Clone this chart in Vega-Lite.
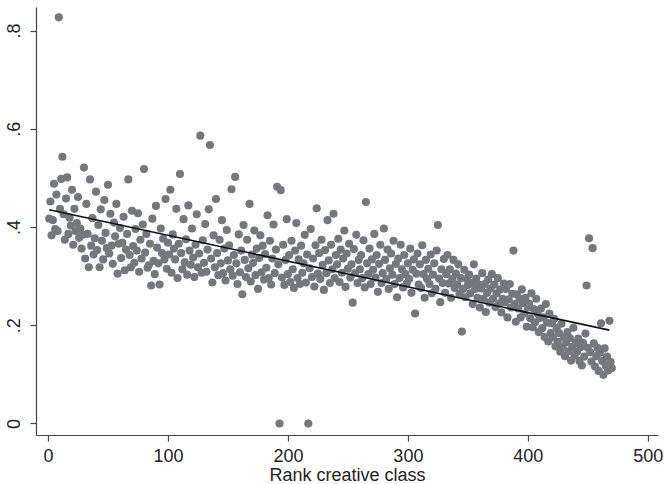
{
  "$schema": "https://vega.github.io/schema/vega-lite/v6.json",
  "width": 622,
  "height": 428,
  "autosize": {"type": "none"},
  "padding": {"left": 36, "top": 7, "right": 6, "bottom": 49},
  "background": "white",
  "config": {
    "view": {"stroke": null},
    "font": "Liberation Sans",
    "axis": {"grid": false, "domainColor": "#444", "tickColor": "#444", "labelColor": "#222", "titleColor": "#222", "labelFont": "Liberation Sans", "titleFont": "Liberation Sans", "labelFontSize": 18, "titleFontSize": 18, "titleFontWeight": "normal", "tickSize": 6, "domainWidth": 1.2, "tickWidth": 1.2}
  },
  "datasets": {
    "pts": [
      {"x":1,"y":0.417},{"x":2,"y":0.452},{"x":3,"y":0.383},{"x":4,"y":0.414},{"x":5,"y":0.488},{"x":6,"y":0.396},{"x":7,"y":0.466},{"x":8,"y":0.392},{"x":9,"y":0.827},{"x":10,"y":0.437},
      {"x":11,"y":0.498},{"x":12,"y":0.543},{"x":13,"y":0.426},{"x":14,"y":0.374},{"x":15,"y":0.458},{"x":16,"y":0.501},{"x":17,"y":0.386},{"x":18,"y":0.419},{"x":19,"y":0.403},{"x":20,"y":0.476},
      {"x":21,"y":0.364},{"x":22,"y":0.437},{"x":23,"y":0.392},{"x":24,"y":0.408},{"x":25,"y":0.461},{"x":26,"y":0.378},{"x":27,"y":0.397},{"x":28,"y":0.356},{"x":29,"y":0.384},{"x":30,"y":0.521},
      {"x":31,"y":0.336},{"x":32,"y":0.447},{"x":33,"y":0.386},{"x":34,"y":0.318},{"x":35,"y":0.497},{"x":36,"y":0.362},{"x":37,"y":0.418},{"x":38,"y":0.344},{"x":39,"y":0.377},{"x":40,"y":0.472},
      {"x":41,"y":0.353},{"x":42,"y":0.404},{"x":43,"y":0.318},{"x":44,"y":0.436},{"x":45,"y":0.372},{"x":46,"y":0.334},{"x":47,"y":0.455},{"x":48,"y":0.388},{"x":49,"y":0.357},{"x":50,"y":0.486},
      {"x":51,"y":0.346},{"x":52,"y":0.427},{"x":53,"y":0.362},{"x":54,"y":0.325},{"x":55,"y":0.409},{"x":56,"y":0.381},{"x":57,"y":0.447},{"x":58,"y":0.305},{"x":59,"y":0.366},{"x":60,"y":0.398},
      {"x":61,"y":0.337},{"x":62,"y":0.368},{"x":63,"y":0.421},{"x":64,"y":0.312},{"x":65,"y":0.354},{"x":66,"y":0.386},{"x":67,"y":0.497},{"x":68,"y":0.343},{"x":69,"y":0.318},{"x":70,"y":0.433},
      {"x":71,"y":0.361},{"x":72,"y":0.327},{"x":73,"y":0.396},{"x":74,"y":0.352},{"x":75,"y":0.428},{"x":76,"y":0.309},{"x":77,"y":0.374},{"x":78,"y":0.336},{"x":79,"y":0.405},{"x":80,"y":0.518},
      {"x":81,"y":0.348},{"x":82,"y":0.386},{"x":83,"y":0.317},{"x":84,"y":0.322},{"x":85,"y":0.366},{"x":86,"y":0.281},{"x":87,"y":0.417},{"x":88,"y":0.331},{"x":89,"y":0.304},{"x":90,"y":0.443},
      {"x":91,"y":0.358},{"x":92,"y":0.326},{"x":93,"y":0.283},{"x":94,"y":0.397},{"x":95,"y":0.347},{"x":96,"y":0.376},{"x":97,"y":0.334},{"x":98,"y":0.457},{"x":99,"y":0.315},{"x":100,"y":0.368},
      {"x":101,"y":0.344},{"x":102,"y":0.476},{"x":103,"y":0.307},{"x":104,"y":0.385},{"x":105,"y":0.356},{"x":106,"y":0.334},{"x":107,"y":0.437},{"x":108,"y":0.296},{"x":109,"y":0.366},{"x":110,"y":0.508},
      {"x":111,"y":0.347},{"x":112,"y":0.314},{"x":113,"y":0.416},{"x":114,"y":0.328},{"x":115,"y":0.375},{"x":116,"y":0.303},{"x":117,"y":0.444},{"x":118,"y":0.352},{"x":119,"y":0.323},{"x":120,"y":0.397},
      {"x":121,"y":0.338},{"x":122,"y":0.298},{"x":123,"y":0.364},{"x":124,"y":0.426},{"x":125,"y":0.318},{"x":126,"y":0.346},{"x":127,"y":0.586},{"x":128,"y":0.307},{"x":129,"y":0.373},{"x":130,"y":0.327},
      {"x":131,"y":0.406},{"x":132,"y":0.309},{"x":133,"y":0.354},{"x":134,"y":0.436},{"x":135,"y":0.567},{"x":136,"y":0.336},{"x":137,"y":0.287},{"x":138,"y":0.383},{"x":139,"y":0.318},{"x":140,"y":0.457},
      {"x":141,"y":0.347},{"x":142,"y":0.302},{"x":143,"y":0.374},{"x":144,"y":0.326},{"x":145,"y":0.414},{"x":146,"y":0.306},{"x":147,"y":0.356},{"x":148,"y":0.291},{"x":149,"y":0.394},{"x":150,"y":0.332},
      {"x":151,"y":0.363},{"x":152,"y":0.314},{"x":153,"y":0.477},{"x":154,"y":0.301},{"x":155,"y":0.343},{"x":156,"y":0.502},{"x":157,"y":0.326},{"x":158,"y":0.284},{"x":159,"y":0.385},{"x":160,"y":0.308},
      {"x":161,"y":0.352},{"x":162,"y":0.263},{"x":163,"y":0.404},{"x":164,"y":0.333},{"x":165,"y":0.298},{"x":166,"y":0.374},{"x":167,"y":0.316},{"x":168,"y":0.447},{"x":169,"y":0.289},{"x":170,"y":0.344},
      {"x":171,"y":0.327},{"x":172,"y":0.393},{"x":173,"y":0.302},{"x":174,"y":0.356},{"x":175,"y":0.274},{"x":176,"y":0.337},{"x":177,"y":0.383},{"x":178,"y":0.308},{"x":179,"y":0.362},{"x":180,"y":0.293},
      {"x":181,"y":0.345},{"x":182,"y":0.317},{"x":183,"y":0.424},{"x":184,"y":0.296},{"x":185,"y":0.372},{"x":186,"y":0.283},{"x":187,"y":0.336},{"x":188,"y":0.405},{"x":189,"y":0.306},{"x":190,"y":0.354},
      {"x":191,"y":0.482},{"x":192,"y":0.324},{"x":193,"y":0},{"x":194,"y":0.475},{"x":195,"y":0.297},{"x":196,"y":0.364},{"x":197,"y":0.282},{"x":198,"y":0.333},{"x":199,"y":0.416},{"x":200,"y":0.304},
      {"x":201,"y":0.343},{"x":202,"y":0.288},{"x":203,"y":0.372},{"x":204,"y":0.314},{"x":205,"y":0.276},{"x":206,"y":0.352},{"x":207,"y":0.408},{"x":208,"y":0.296},{"x":209,"y":0.334},{"x":210,"y":0.284},
      {"x":211,"y":0.362},{"x":212,"y":0.307},{"x":213,"y":0.326},{"x":214,"y":0.384},{"x":215,"y":0.287},{"x":216,"y":0.344},{"x":217,"y":0},{"x":218,"y":0.316},{"x":219,"y":0.396},{"x":220,"y":0.298},
      {"x":221,"y":0.336},{"x":222,"y":0.279},{"x":223,"y":0.363},{"x":224,"y":0.438},{"x":225,"y":0.305},{"x":226,"y":0.347},{"x":227,"y":0.294},{"x":228,"y":0.374},{"x":229,"y":0.323},{"x":230,"y":0.272},
      {"x":231,"y":0.353},{"x":232,"y":0.306},{"x":233,"y":0.414},{"x":234,"y":0.332},{"x":235,"y":0.286},{"x":236,"y":0.364},{"x":237,"y":0.314},{"x":238,"y":0.427},{"x":239,"y":0.296},{"x":240,"y":0.343},
      {"x":241,"y":0.324},{"x":242,"y":0.376},{"x":243,"y":0.288},{"x":244,"y":0.354},{"x":245,"y":0.307},{"x":246,"y":0.336},{"x":247,"y":0.393},{"x":248,"y":0.278},{"x":249,"y":0.346},{"x":250,"y":0.315},
      {"x":251,"y":0.366},{"x":252,"y":0.297},{"x":253,"y":0.324},{"x":254,"y":0.246},{"x":255,"y":0.355},{"x":256,"y":0.306},{"x":257,"y":0.384},{"x":258,"y":0.286},{"x":259,"y":0.333},{"x":260,"y":0.314},
      {"x":261,"y":0.343},{"x":262,"y":0.296},{"x":263,"y":0.373},{"x":264,"y":0.277},{"x":265,"y":0.451},{"x":266,"y":0.326},{"x":267,"y":0.304},{"x":268,"y":0.356},{"x":269,"y":0.284},{"x":270,"y":0.334},
      {"x":271,"y":0.313},{"x":272,"y":0.386},{"x":273,"y":0.297},{"x":274,"y":0.343},{"x":275,"y":0.268},{"x":276,"y":0.325},{"x":277,"y":0.364},{"x":278,"y":0.286},{"x":279,"y":0.306},{"x":280,"y":0.397},
      {"x":281,"y":0.333},{"x":282,"y":0.294},{"x":283,"y":0.354},{"x":284,"y":0.274},{"x":285,"y":0.316},{"x":286,"y":0.346},{"x":287,"y":0.303},{"x":288,"y":0.372},{"x":289,"y":0.284},{"x":290,"y":0.325},
      {"x":291,"y":0.257},{"x":292,"y":0.336},{"x":293,"y":0.296},{"x":294,"y":0.364},{"x":295,"y":0.314},{"x":296,"y":0.277},{"x":297,"y":0.343},{"x":298,"y":0.304},{"x":299,"y":0.285},{"x":300,"y":0.326},
      {"x":301,"y":0.294},{"x":302,"y":0.356},{"x":303,"y":0.266},{"x":304,"y":0.313},{"x":305,"y":0.334},{"x":306,"y":0.224},{"x":307,"y":0.305},{"x":308,"y":0.346},{"x":309,"y":0.283},{"x":310,"y":0.324},
      {"x":311,"y":0.276},{"x":312,"y":0.363},{"x":313,"y":0.304},{"x":314,"y":0.256},{"x":315,"y":0.333},{"x":316,"y":0.294},{"x":317,"y":0.315},{"x":318,"y":0.284},{"x":319,"y":0.344},{"x":320,"y":0.265},
      {"x":321,"y":0.303},{"x":322,"y":0.326},{"x":323,"y":0.274},{"x":324,"y":0.352},{"x":325,"y":0.404},{"x":326,"y":0.295},{"x":327,"y":0.247},{"x":328,"y":0.314},{"x":329,"y":0.286},{"x":330,"y":0.335},
      {"x":331,"y":0.266},{"x":332,"y":0.304},{"x":333,"y":0.343},{"x":334,"y":0.285},{"x":335,"y":0.314},{"x":336,"y":0.256},{"x":337,"y":0.294},{"x":338,"y":0.333},{"x":339,"y":0.276},{"x":340,"y":0.305},
      {"x":341,"y":0.283},{"x":342,"y":0.324},{"x":343,"y":0.264},{"x":344,"y":0.296},{"x":345,"y":0.187},{"x":346,"y":0.274},{"x":347,"y":0.313},{"x":348,"y":0.257},{"x":349,"y":0.294},{"x":350,"y":0.282},
      {"x":351,"y":0.303},{"x":352,"y":0.265},{"x":353,"y":0.286},{"x":354,"y":0.243},{"x":355,"y":0.324},{"x":356,"y":0.274},{"x":357,"y":0.295},{"x":358,"y":0.256},{"x":359,"y":0.283},{"x":360,"y":0.236},
      {"x":361,"y":0.275},{"x":362,"y":0.306},{"x":363,"y":0.254},{"x":364,"y":0.284},{"x":365,"y":0.227},{"x":366,"y":0.266},{"x":367,"y":0.293},{"x":368,"y":0.246},{"x":369,"y":0.275},{"x":370,"y":0.304},
      {"x":371,"y":0.254},{"x":372,"y":0.283},{"x":373,"y":0.237},{"x":374,"y":0.265},{"x":375,"y":0.296},{"x":376,"y":0.244},{"x":377,"y":0.273},{"x":378,"y":0.226},{"x":379,"y":0.254},{"x":380,"y":0.285},
      {"x":381,"y":0.247},{"x":382,"y":0.274},{"x":383,"y":0.216},{"x":384,"y":0.253},{"x":385,"y":0.284},{"x":386,"y":0.236},{"x":387,"y":0.264},{"x":388,"y":0.352},{"x":389,"y":0.243},{"x":390,"y":0.207},
      {"x":391,"y":0.263},{"x":392,"y":0.234},{"x":393,"y":0.254},{"x":394,"y":0.216},{"x":395,"y":0.273},{"x":396,"y":0.245},{"x":397,"y":0.224},{"x":398,"y":0.256},{"x":399,"y":0.197},{"x":400,"y":0.236},
      {"x":401,"y":0.244},{"x":402,"y":0.214},{"x":403,"y":0.265},{"x":404,"y":0.196},{"x":405,"y":0.233},{"x":406,"y":0.206},{"x":407,"y":0.254},{"x":408,"y":0.224},{"x":409,"y":0.186},{"x":410,"y":0.215},
      {"x":411,"y":0.234},{"x":412,"y":0.194},{"x":413,"y":0.216},{"x":414,"y":0.176},{"x":415,"y":0.243},{"x":416,"y":0.205},{"x":417,"y":0.167},{"x":418,"y":0.224},{"x":419,"y":0.184},{"x":420,"y":0.204},
      {"x":421,"y":0.175},{"x":422,"y":0.213},{"x":423,"y":0.157},{"x":424,"y":0.194},{"x":425,"y":0.166},{"x":426,"y":0.184},{"x":427,"y":0.146},{"x":428,"y":0.203},{"x":429,"y":0.155},{"x":430,"y":0.176},
      {"x":431,"y":0.137},{"x":432,"y":0.165},{"x":433,"y":0.186},{"x":434,"y":0.147},{"x":435,"y":0.174},{"x":436,"y":0.128},{"x":437,"y":0.156},{"x":438,"y":0.195},{"x":439,"y":0.138},{"x":440,"y":0.164},
      {"x":441,"y":0.146},{"x":442,"y":0.173},{"x":443,"y":0.127},{"x":444,"y":0.155},{"x":445,"y":0.118},{"x":446,"y":0.164},{"x":447,"y":0.136},{"x":448,"y":0.183},{"x":449,"y":0.281},{"x":450,"y":0.154},
      {"x":451,"y":0.377},{"x":452,"y":0.145},{"x":453,"y":0.126},{"x":454,"y":0.357},{"x":455,"y":0.163},{"x":456,"y":0.116},{"x":457,"y":0.137},{"x":458,"y":0.154},{"x":459,"y":0.107},{"x":460,"y":0.144},
      {"x":461,"y":0.204},{"x":462,"y":0.127},{"x":463,"y":0.099},{"x":464,"y":0.153},{"x":465,"y":0.118},{"x":466,"y":0.136},{"x":467,"y":0.108},{"x":468,"y":0.209},{"x":469,"y":0.125},{"x":470,"y":0.113}
    ],
    "fit": [
      {"x":1,"y":0.435},{"x":468,"y":0.19}
    ]
  },
  "layer": [
    {
      "data": {"name": "pts"},
      "mark": {"type": "circle", "size": 66, "color": "#76777b", "opacity": 1},
      "encoding": {
        "x": {"field": "x", "type": "quantitative", "scale": {"domain": [-10, 508.5], "nice": false, "zero": false},
          "axis": {"title": "Rank creative class", "values": [0,100,200,300,400,500], "labelPadding": 6, "titlePadding": 1}},
        "y": {"field": "y", "type": "quantitative", "scale": {"domain": [-0.0235, 0.848], "nice": false, "zero": false},
          "axis": {"title": null, "values": [0,0.2,0.4,0.6,0.8], "labelAngle": -90, "labelAlign": "center", "labelBaseline": "bottom", "labelPadding": 7,
            "labelExpr": "replace(format(datum.value,'.1~f'),'0.','.')"}}
      }
    },
    {
      "data": {"name": "fit"},
      "mark": {"type": "line", "color": "#111", "strokeWidth": 1.6},
      "encoding": {
        "x": {"field": "x", "type": "quantitative"},
        "y": {"field": "y", "type": "quantitative"}
      }
    }
  ]
}
